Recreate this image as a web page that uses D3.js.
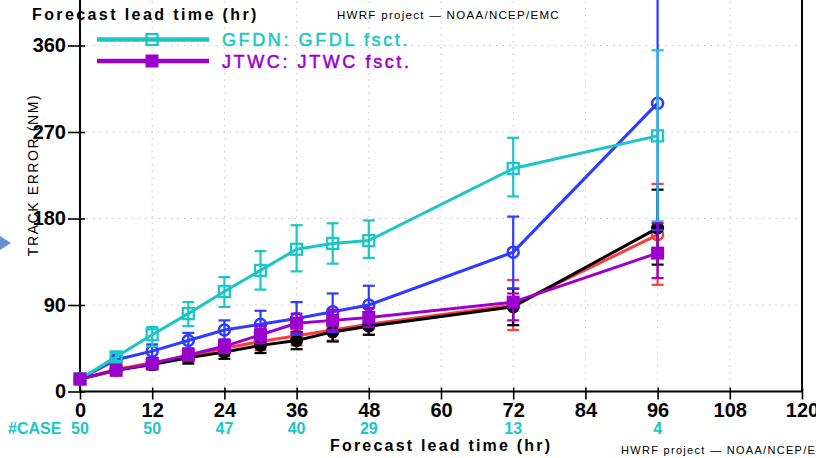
<!DOCTYPE html>
<html><head><meta charset="utf-8">
<script src="https://cdn.jsdelivr.net/npm/d3@7"></script>
<style>
html,body{margin:0;padding:0;background:#fff;}
svg{display:block;}
text{font-family:"Liberation Sans",Arial,sans-serif;}
</style></head>
<body><svg id="chart" width="816" height="458"></svg>
<script>
// ---- data ----
const hours = [0, 6, 12, 18, 24, 30, 36, 42, 48, 72, 96];
const xTicks = [0, 12, 24, 36, 48, 60, 72, 84, 96, 108, 120];
const yTicks = [0, 90, 180, 270, 360];
const caseHours = [0, 12, 24, 36, 48, 72, 96];
const caseCounts = [50, 50, 47, 40, 29, 13, 4];

const gfdnMean = [13, 36, 59, 81, 104, 126, 148, 154, 157, 232, 266];
const gfdnLo   = [10, 32, 47, 68, 88, 106, 125, 133, 139, 203, 177];
const gfdnHi   = [16, 40, 67, 93, 119, 146, 173, 175, 178, 264, 355];

const blueMean = [13, 33, 42, 53, 64, 70, 76, 83, 90, 145, 300];
const blueLo   = [10, 29, 35, 45, 54, 57, 59, 62, 71, 107, 168];
const blueHi   = [16, 37, 49, 61, 74, 84, 93, 102, 110, 182, 440];

const redMean  = [13, 23, 30, 37, 45, 52, 58, 64, 70, 90, 163];
const redLo    = [10, 19, 25, 31, 37, 43, 48, 53, 59, 64, 111];
const redHi    = [16, 27, 35, 43, 53, 61, 68, 75, 81, 116, 216];

const blackMean = [13, 22, 28, 35, 41, 48, 53, 62, 68, 88, 170];
const blackLo   = [10, 18, 23, 29, 34, 40, 44, 52, 59, 69, 132];
const blackHi   = [16, 26, 33, 41, 49, 56, 62, 71, 78, 107, 210];

const jtwcMean = [13, 22, 29, 38, 47, 59, 71, 74, 77, 93, 144];
const jtwcLo   = [10, 18, 24, 32, 40, 50, 61, 64, 67, 74, 118];
const jtwcHi   = [16, 26, 34, 44, 54, 68, 81, 85, 87, 102, 175];

const legendNames = ["GFDN: GFDL fsct.", "JTWC: JTWC fsct."];

// ---- setup ----
const svg = d3.select("#chart");
const x = d3.scaleLinear().domain([0, 120]).range([80, 802]);
const y = d3.scaleLinear().domain([0, 360]).range([391.5, 45.5]);
const topY = -5;

// slide arrow fragment
svg.append("path").attr("d", "M0,236 L11,243 L0,250 Z").attr("fill", "#6b8fcf");

// grid
const grid = svg.append("g").attr("stroke", "#c8c8c8").attr("stroke-width", 1).attr("stroke-dasharray", "1.5,5");
grid.selectAll("line.v").data(xTicks.filter(d => d > 0 && d < 120)).enter().append("line")
  .attr("x1", d => x(d)).attr("x2", d => x(d)).attr("y1", topY).attr("y2", y(0));
grid.selectAll("line.h").data(yTicks.filter(d => d > 0)).enter().append("line")
  .attr("x1", x(0)).attr("x2", x(120)).attr("y1", d => y(d)).attr("y2", d => y(d));

// frame
svg.append("line").attr("x1", x(0)).attr("x2", x(0)).attr("y1", topY).attr("y2", y(0)).attr("stroke", "#000").attr("stroke-width", 2);
svg.append("line").attr("x1", x(120)).attr("x2", x(120)).attr("y1", topY).attr("y2", y(0)).attr("stroke", "#000").attr("stroke-width", 2);
svg.append("line").attr("x1", x(0)).attr("x2", x(120)).attr("y1", y(0)).attr("y2", y(0)).attr("stroke", "#000").attr("stroke-width", 2);

// axes
const xAxis = svg.append("g").attr("transform", `translate(0,${y(0)})`)
  .call(d3.axisBottom(x).tickValues(xTicks).tickSize(8).tickPadding(3).tickFormat(d3.format("d")));
xAxis.select(".domain").remove();
xAxis.selectAll(".tick line").attr("y1", -4).attr("stroke-width", 1.6);
xAxis.selectAll(".tick text").attr("font-size", 20).attr("font-weight", "bold").attr("fill", "#000");

const yAxis = svg.append("g").attr("transform", `translate(${x(0)},0)`)
  .call(d3.axisLeft(y).tickValues(yTicks).tickSize(12).tickPadding(2));
yAxis.select(".domain").remove();
yAxis.selectAll(".tick line").attr("x1", 5).attr("stroke-width", 1.6);
yAxis.selectAll(".tick text").attr("font-size", 20).attr("font-weight", "bold").attr("fill", "#000");

// series
const series = [
  {mean: redMean, lo: redLo, hi: redHi, color: "#ff3b3b", marker: "circleOpen"},
  {mean: blackMean, lo: blackLo, hi: blackHi, color: "#000000", marker: "circleFill"},
  {mean: blueMean, lo: blueLo, hi: blueHi, color: "#2f3cff", marker: "circleOpen"},
  {mean: gfdnMean, lo: gfdnLo, hi: gfdnHi, color: "#1cc6c6", marker: "squareOpen"},
  {mean: jtwcMean, lo: jtwcLo, hi: jtwcHi, color: "#9b00cc", marker: "squareFill"}
];
const line = d3.line().x(d => x(d[0])).y(d => y(d[1]));

function drawMarker(g, type, cx, cy, color) {
  if (type === "circleOpen") {
    g.append("circle").attr("cx", cx).attr("cy", cy).attr("r", 5.5).attr("fill", "none").attr("stroke", color).attr("stroke-width", 2.5);
  } else if (type === "circleFill") {
    g.append("circle").attr("cx", cx).attr("cy", cy).attr("r", 6.5).attr("fill", color);
  } else if (type === "squareOpen") {
    g.append("rect").attr("x", cx - 5.5).attr("y", cy - 5.5).attr("width", 11).attr("height", 11).attr("fill", "none").attr("stroke", color).attr("stroke-width", 2.3);
  } else {
    g.append("rect").attr("x", cx - 6.5).attr("y", cy - 6.5).attr("width", 13).attr("height", 13).attr("fill", color);
  }
}

series.forEach(s => {
  const g = svg.append("g");
  const pts = hours.map((h, i) => [h, s.mean[i]]);
  g.append("path").attr("d", line(pts)).attr("fill", "none").attr("stroke", s.color).attr("stroke-width", 3);
  hours.forEach((h, i) => {
    const cx = x(h);
    g.append("line").attr("x1", cx).attr("x2", cx).attr("y1", y(s.lo[i])).attr("y2", y(s.hi[i]))
      .attr("stroke", s.color).attr("stroke-width", 2.2);
    [s.lo[i], s.hi[i]].forEach(v => {
      g.append("line").attr("x1", cx - 6).attr("x2", cx + 6).attr("y1", y(v)).attr("y2", y(v))
        .attr("stroke", s.color).attr("stroke-width", 2.2);
    });
    drawMarker(g, s.marker, cx, y(s.mean[i]), s.color);
  });
});

// legend
const legend = [
  {name: legendNames[0], color: "#1cc6c6", marker: "squareOpen", y: 39.5},
  {name: legendNames[1], color: "#9b00cc", marker: "squareFill", y: 61}
];
legend.forEach(l => {
  const g = svg.append("g");
  g.append("rect").attr("x", 97).attr("y", l.y - 3).attr("width", 112).attr("height", 6).attr("fill", "#fff");
  g.append("line").attr("x1", 97).attr("x2", 209).attr("y1", l.y).attr("y2", l.y).attr("stroke", l.color).attr("stroke-width", 4.5);
  drawMarker(g, l.marker, 152, l.y, l.color);
  g.append("text").attr("x", 222).attr("y", l.y + 6.5).attr("fill", l.color).attr("font-size", 18)
    .attr("stroke", l.color).attr("stroke-width", 0.5)
    .attr("letter-spacing", 2.6).text(l.name);
});

// titles
svg.append("text").attr("x", 32).attr("y", 20).attr("font-size", 16).attr("font-weight", "bold")
  .attr("letter-spacing", 2.4).text("Forecast lead time (hr)");
svg.append("text").attr("x", 337).attr("y", 19).attr("font-size", 11.5)
  .attr("letter-spacing", 1.3).text("HWRF project — NOAA/NCEP/EMC");
svg.append("text").attr("x", 330).attr("y", 451).attr("font-size", 16).attr("font-weight", "bold")
  .attr("letter-spacing", 2.2).text("Forecast lead time (hr)");
svg.append("text").attr("x", 621).attr("y", 454).attr("font-size", 11)
  .attr("letter-spacing", 1.3).text("HWRF project — NOAA/NCEP/EMC");
svg.append("text").attr("transform", "translate(38,175) rotate(-90)").attr("text-anchor", "middle")
  .attr("font-size", 14).attr("letter-spacing", 1.6).text("TRACK ERROR (NM)");

// case counts
svg.append("text").attr("x", 8).attr("y", 434).attr("font-size", 16).attr("font-weight", "bold").attr("fill", "#1cc6c6").text("#CASE");
svg.append("g").selectAll("text").data(caseHours).enter().append("text")
  .attr("x", d => x(d)).attr("y", 434).attr("text-anchor", "middle").attr("font-size", 16).attr("font-weight", "bold")
  .attr("fill", "#1cc6c6").text((d, i) => caseCounts[i]);
</script></body></html>
